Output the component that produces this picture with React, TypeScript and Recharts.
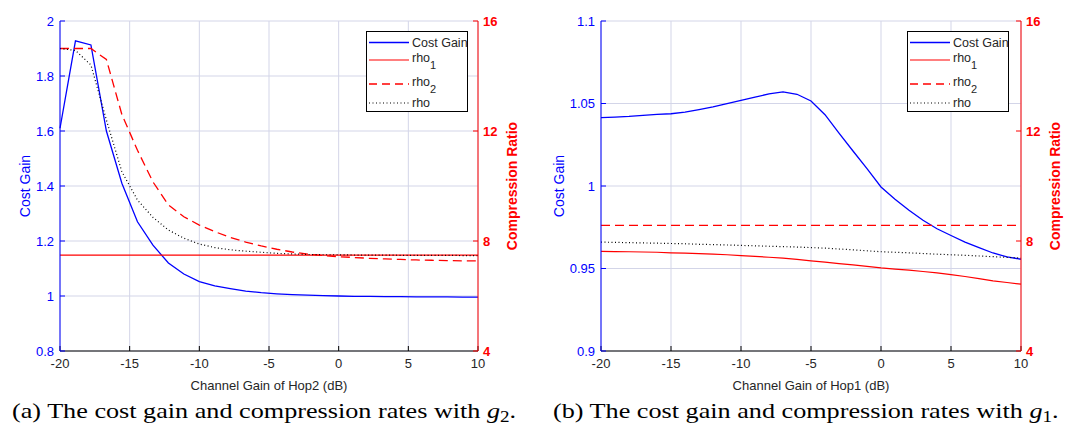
import React from "react";
import { LineChart, Line, XAxis, YAxis, CartesianGrid } from "recharts";

// (a) sweep over the channel gain of hop 2
const hop2Db = [
  -20, -18.89, -17.78, -16.67, -15.56, -14.44, -13.33, -12.22, -11.11, -10,
  -8.89, -7.78, -6.67, -5.56, -4.44, -3.33, -2.22, -1.11, 0, 1.11, 2.22, 3.33,
  4.44, 5.56, 6.67, 7.78, 8.89, 10,
];
const hop2CostGain = [
  1.61, 1.928, 1.913, 1.6, 1.41, 1.27, 1.185, 1.12, 1.08, 1.052, 1.037, 1.027,
  1.018, 1.012, 1.008, 1.005, 1.003, 1.001, 1.0, 0.999, 0.999, 0.998, 0.998,
  0.997, 0.997, 0.997, 0.996, 0.996,
];
const hop2Rho1 = [
  7.49, 7.49, 7.49, 7.49, 7.49, 7.49, 7.49, 7.49, 7.49, 7.49, 7.49, 7.49, 7.49,
  7.49, 7.49, 7.49, 7.49, 7.49, 7.49, 7.49, 7.49, 7.49, 7.49, 7.49, 7.49, 7.49,
  7.49, 7.49,
];
const hop2Rho2 = [
  15, 15, 15, 14.6, 12.6, 11.3, 10.15, 9.31, 8.88, 8.58, 8.34, 8.13, 7.96, 7.82,
  7.7, 7.6, 7.52, 7.47, 7.43, 7.4, 7.37, 7.35, 7.33, 7.31, 7.3, 7.29, 7.28, 7.28,
];
const hop2Rho = [
  15.0, 14.93, 14.4, 12.4, 10.52, 9.49, 8.86, 8.4, 8.1, 7.89, 7.76, 7.68, 7.63,
  7.59, 7.55, 7.53, 7.51, 7.5, 7.5, 7.49, 7.49, 7.49, 7.48, 7.48, 7.48, 7.48,
  7.47, 7.47,
];

// (b) sweep over the channel gain of hop 1
const hop1Db = [
  -20, -19, -18, -17, -16, -15, -14, -13, -12, -11, -10, -9, -8, -7, -6, -5, -4,
  -3, -2, -1, 0, 1, 2, 3, 4, 5, 6, 7, 8, 9, 10,
];
const hop1CostGain = [
  1.0414, 1.0418, 1.0422, 1.0428, 1.0434, 1.0438, 1.0448, 1.0463, 1.0479,
  1.0499, 1.0519, 1.0539, 1.0558, 1.057, 1.0556, 1.0515, 1.0432, 1.0321,
  1.0212, 1.0105, 0.9994, 0.992, 0.9853, 0.9792, 0.9741, 0.97, 0.966, 0.9626,
  0.9594, 0.957, 0.9556,
];
const hop1Rho1 = [
  7.62, 7.615, 7.61, 7.6, 7.59, 7.57, 7.56, 7.54, 7.52, 7.5, 7.47, 7.44, 7.41,
  7.38, 7.33, 7.28, 7.23, 7.18, 7.13, 7.08, 7.02, 6.98, 6.94, 6.89, 6.84, 6.78,
  6.71, 6.63, 6.55, 6.49, 6.43,
];
const hop1Rho2 = [
  8.57, 8.57, 8.57, 8.57, 8.57, 8.57, 8.57, 8.57, 8.57, 8.57, 8.57, 8.57, 8.57,
  8.57, 8.57, 8.57, 8.57, 8.57, 8.57, 8.57, 8.57, 8.57, 8.57, 8.57, 8.57, 8.57,
  8.57, 8.57, 8.57, 8.57, 8.57,
];
const hop1Rho = [
  7.96, 7.95, 7.94, 7.93, 7.92, 7.91, 7.9, 7.88, 7.87, 7.855, 7.84, 7.825, 7.81,
  7.795, 7.78, 7.76, 7.74, 7.71, 7.68, 7.645, 7.61, 7.59, 7.57, 7.545, 7.52,
  7.5, 7.48, 7.455, 7.43, 7.405, 7.38,
];

const xTicks = [-20, -15, -10, -5, 0, 5, 10];
const ratioTicks = [4, 8, 12, 16];
const hop2GainTicks = [0.8, 1, 1.2, 1.4, 1.6, 1.8, 2];
const hop1GainTicks = [0.9, 0.95, 1, 1.05, 1.1];

const BLUE = "#0000ff";
const RED = "#ff0000";
const INK = "#262626";
const GRID = "#d3d5e8";
const SANS = "'Liberation Sans', Arial, Helvetica, sans-serif";
const SERIF = "'Liberation Serif', 'Times New Roman', serif";

const toRows = (
  xs: number[],
  cost: number[],
  rho1: number[],
  rho2: number[],
  rho: number[]
) =>
  xs.map((x, i) => ({
    x,
    cost: cost[i],
    rho1: rho1[i],
    rho2: rho2[i],
    rho: rho[i],
  }));

const hop2Rows = toRows(hop2Db, hop2CostGain, hop2Rho1, hop2Rho2, hop2Rho);
const hop1Rows = toRows(hop1Db, hop1CostGain, hop1Rho1, hop1Rho2, hop1Rho);

const yTitle =
  (text: string, color: string, dx: number, bold: boolean) => (props: any) => {
    const vb = props.viewBox || { x: 0, y: 21, width: 60, height: 330 };
    const cx = vb.x + dx;
    const cy = vb.y + vb.height / 2;
    return (
      <text
        x={cx}
        y={cy}
        transform={`rotate(-90 ${cx} ${cy})`}
        textAnchor="middle"
        dominantBaseline="central"
        fill={color}
        fontSize={14}
        fontWeight={bold ? 700 : 400}
        fontFamily={SANS}
      >
        {text}
      </text>
    );
  };

const xTitle = (text: string) => (props: any) => {
  const vb = props.viewBox || { x: 60, y: 351, width: 418, height: 40 };
  return (
    <text
      x={vb.x + vb.width / 2}
      y={vb.y + 34}
      textAnchor="middle"
      dominantBaseline="central"
      fill={INK}
      fontSize={13}
      fontFamily={SANS}
    >
      {text}
    </text>
  );
};

interface PanelProps {
  rows: ReturnType<typeof toRows>;
  width: number;
  gainDomain: [number, number];
  gainTicks: number[];
  xLabel: string;
  gainTitleDx: number;
}

const Panel = (props: PanelProps) => (
  <LineChart
    width={props.width}
    height={400}
    data={props.rows}
    margin={{ top: 21, right: 0, bottom: 9, left: 0 }}
  >
    <CartesianGrid xAxisId="bottom" yAxisId="gain" stroke={GRID} />
    <XAxis
      xAxisId="bottom"
      dataKey="x"
      type="number"
      domain={[-20, 10]}
      ticks={xTicks}
      height={40}
      stroke="#000"
      tickSize={-5}
      tickMargin={13}
      tick={{ fill: INK, fontSize: 13, fontFamily: SANS }}
      label={xTitle(props.xLabel)}
    />
    <XAxis
      xAxisId="top"
      orientation="top"
      dataKey="x"
      type="number"
      domain={[-20, 10]}
      ticks={xTicks}
      height={0}
      stroke="#000"
      tickSize={-5}
      tick={false}
    />
    <YAxis
      yAxisId="gain"
      orientation="left"
      width={60}
      domain={props.gainDomain}
      ticks={props.gainTicks}
      stroke={BLUE}
      tickSize={-5}
      tickMargin={11}
      tick={{ fill: BLUE, fontSize: 13, fontFamily: SANS }}
      label={yTitle("Cost Gain", BLUE, props.gainTitleDx, false)}
    />
    <YAxis
      yAxisId="ratio"
      orientation="right"
      width={62}
      domain={[4, 16]}
      ticks={ratioTicks}
      stroke={RED}
      tickSize={-5}
      tickMargin={10}
      tick={{ fill: RED, fontSize: 13, fontWeight: 700, fontFamily: SANS }}
      label={yTitle("Compression Ratio", RED, 34, true)}
    />
    <Line
      xAxisId="bottom"
      yAxisId="gain"
      type="linear"
      dataKey="cost"
      stroke={BLUE}
      strokeWidth={1.3}
      dot={false}
      isAnimationActive={false}
    />
    <Line
      xAxisId="bottom"
      yAxisId="ratio"
      type="linear"
      dataKey="rho1"
      stroke={RED}
      strokeWidth={1.2}
      dot={false}
      isAnimationActive={false}
    />
    <Line
      xAxisId="bottom"
      yAxisId="ratio"
      type="linear"
      dataKey="rho2"
      stroke={RED}
      strokeWidth={1.3}
      strokeDasharray="9 5"
      dot={false}
      isAnimationActive={false}
    />
    <Line
      xAxisId="bottom"
      yAxisId="ratio"
      type="linear"
      dataKey="rho"
      stroke="#000"
      strokeWidth={1.2}
      strokeDasharray="1 2.5"
      dot={false}
      isAnimationActive={false}
    />
  </LineChart>
);

const LegendBox = ({ left }: { left: number }) => (
  <svg
    width={103}
    height={82}
    style={{ position: "absolute", left, top: 31 }}
    fontFamily={SANS}
    fontSize={12.5}
  >
    <rect x={0.5} y={0.5} width={101} height={80} fill="#fff" stroke="#000" />
    <line x1={3} x2={43} y1={11.5} y2={11.5} stroke={BLUE} strokeWidth={1.3} />
    <text x={46} y={11.5} dominantBaseline="central" fill={INK}>
      Cost Gain
    </text>
    <line x1={3} x2={43} y1={29} y2={29} stroke={RED} strokeWidth={1.2} />
    <text x={46} y={27} dominantBaseline="central" fill={INK}>
      rho
      <tspan dy={7} fontSize={11}>
        1
      </tspan>
    </text>
    <line
      x1={3}
      x2={43}
      y1={53}
      y2={53}
      stroke={RED}
      strokeWidth={1.3}
      strokeDasharray="8 5"
    />
    <text x={46} y={51} dominantBaseline="central" fill={INK}>
      rho
      <tspan dy={7} fontSize={11}>
        2
      </tspan>
    </text>
    <line
      x1={3}
      x2={43}
      y1={72}
      y2={72}
      stroke="#000"
      strokeWidth={1.2}
      strokeDasharray="1 2.5"
    />
    <text x={46} y={72} dominantBaseline="central" fill={INK}>
      rho
    </text>
  </svg>
);

const Caption = ({ left, tag, sub }: { left: number; tag: string; sub: string }) => (
  <div
    style={{
      position: "absolute",
      left,
      top: 397,
      fontFamily: SERIF,
      fontSize: 22,
      lineHeight: "28px",
      whiteSpace: "nowrap",
      color: "#000",
      transform: "scaleX(1.19)",
      transformOrigin: "left center",
    }}
  >
    ({tag}) The cost gain and compression rates with{" "}
    <span style={{ fontStyle: "italic" }}>g</span>
    <span style={{ fontSize: 16, verticalAlign: -4 }}>{sub}</span>.
  </div>
);

export default function App() {
  return (
    <div
      style={{
        position: "absolute",
        left: 0,
        top: 0,
        width: 1083,
        height: 429,
        background: "#fff",
        overflow: "hidden",
      }}
    >
      <div style={{ position: "absolute", left: 0, top: 0 }}>
        <Panel
          rows={hop2Rows}
          width={540}
          gainDomain={[0.8, 2]}
          gainTicks={hop2GainTicks}
          xLabel="Channel Gain of Hop2 (dB)"
          gainTitleDx={25}
        />
      </div>
      <div style={{ position: "absolute", left: 541, top: 0 }}>
        <Panel
          rows={hop1Rows}
          width={542}
          gainDomain={[0.9, 1.1]}
          gainTicks={hop1GainTicks}
          xLabel="Channel Gain of Hop1 (dB)"
          gainTitleDx={18}
        />
      </div>
      <LegendBox left={366} />
      <LegendBox left={907} />
      <Caption left={12} tag="a" sub="2" />
      <Caption left={553} tag="b" sub="1" />
    </div>
  );
}
